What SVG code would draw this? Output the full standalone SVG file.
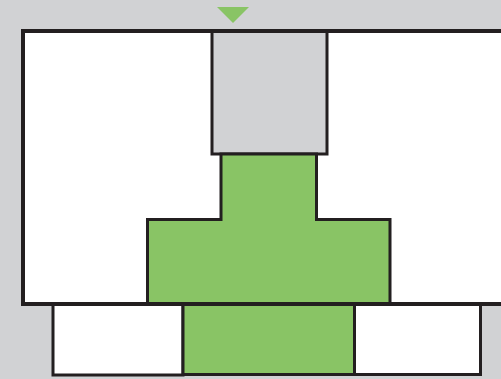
<svg xmlns="http://www.w3.org/2000/svg" width="501" height="379" viewBox="0 0 501 379">
<style>
.k{stroke:#231f20;stroke-width:3;stroke-linejoin:miter}
.w{fill:#ffffff}
.g{fill:#89c465}
.s{fill:#d1d2d4}
</style>
<rect x="0" y="0" width="501" height="379" fill="#d1d2d4"/>
<g id="outer-fill"><rect x="23" y="31" width="490" height="273" fill="#ffffff"/></g>
<g id="gray-block"><rect class="k s" x="212" y="31" width="115" height="123"/></g>
<g id="green-t"><polygon class="k g" points="221,154 316.5,154 316.5,219.5 390,219.5 390,304 147.5,304 147.5,219.5 221,219.5"/></g>
<g id="bottom-left"><rect class="k w" x="53" y="304" width="130" height="71"/></g>
<g id="bottom-mid"><rect class="k g" x="183" y="304" width="171.5" height="70.5"/></g>
<g id="bottom-right"><rect class="k w" x="354.5" y="304" width="126" height="70.5"/></g>
<g id="outer-frame"><rect x="23" y="31" width="490" height="273" fill="none" stroke="#231f20" stroke-width="4"/></g>
<g id="marker"><polygon points="217,7 249,7 233,23" fill="#89c465"/></g>
</svg>
